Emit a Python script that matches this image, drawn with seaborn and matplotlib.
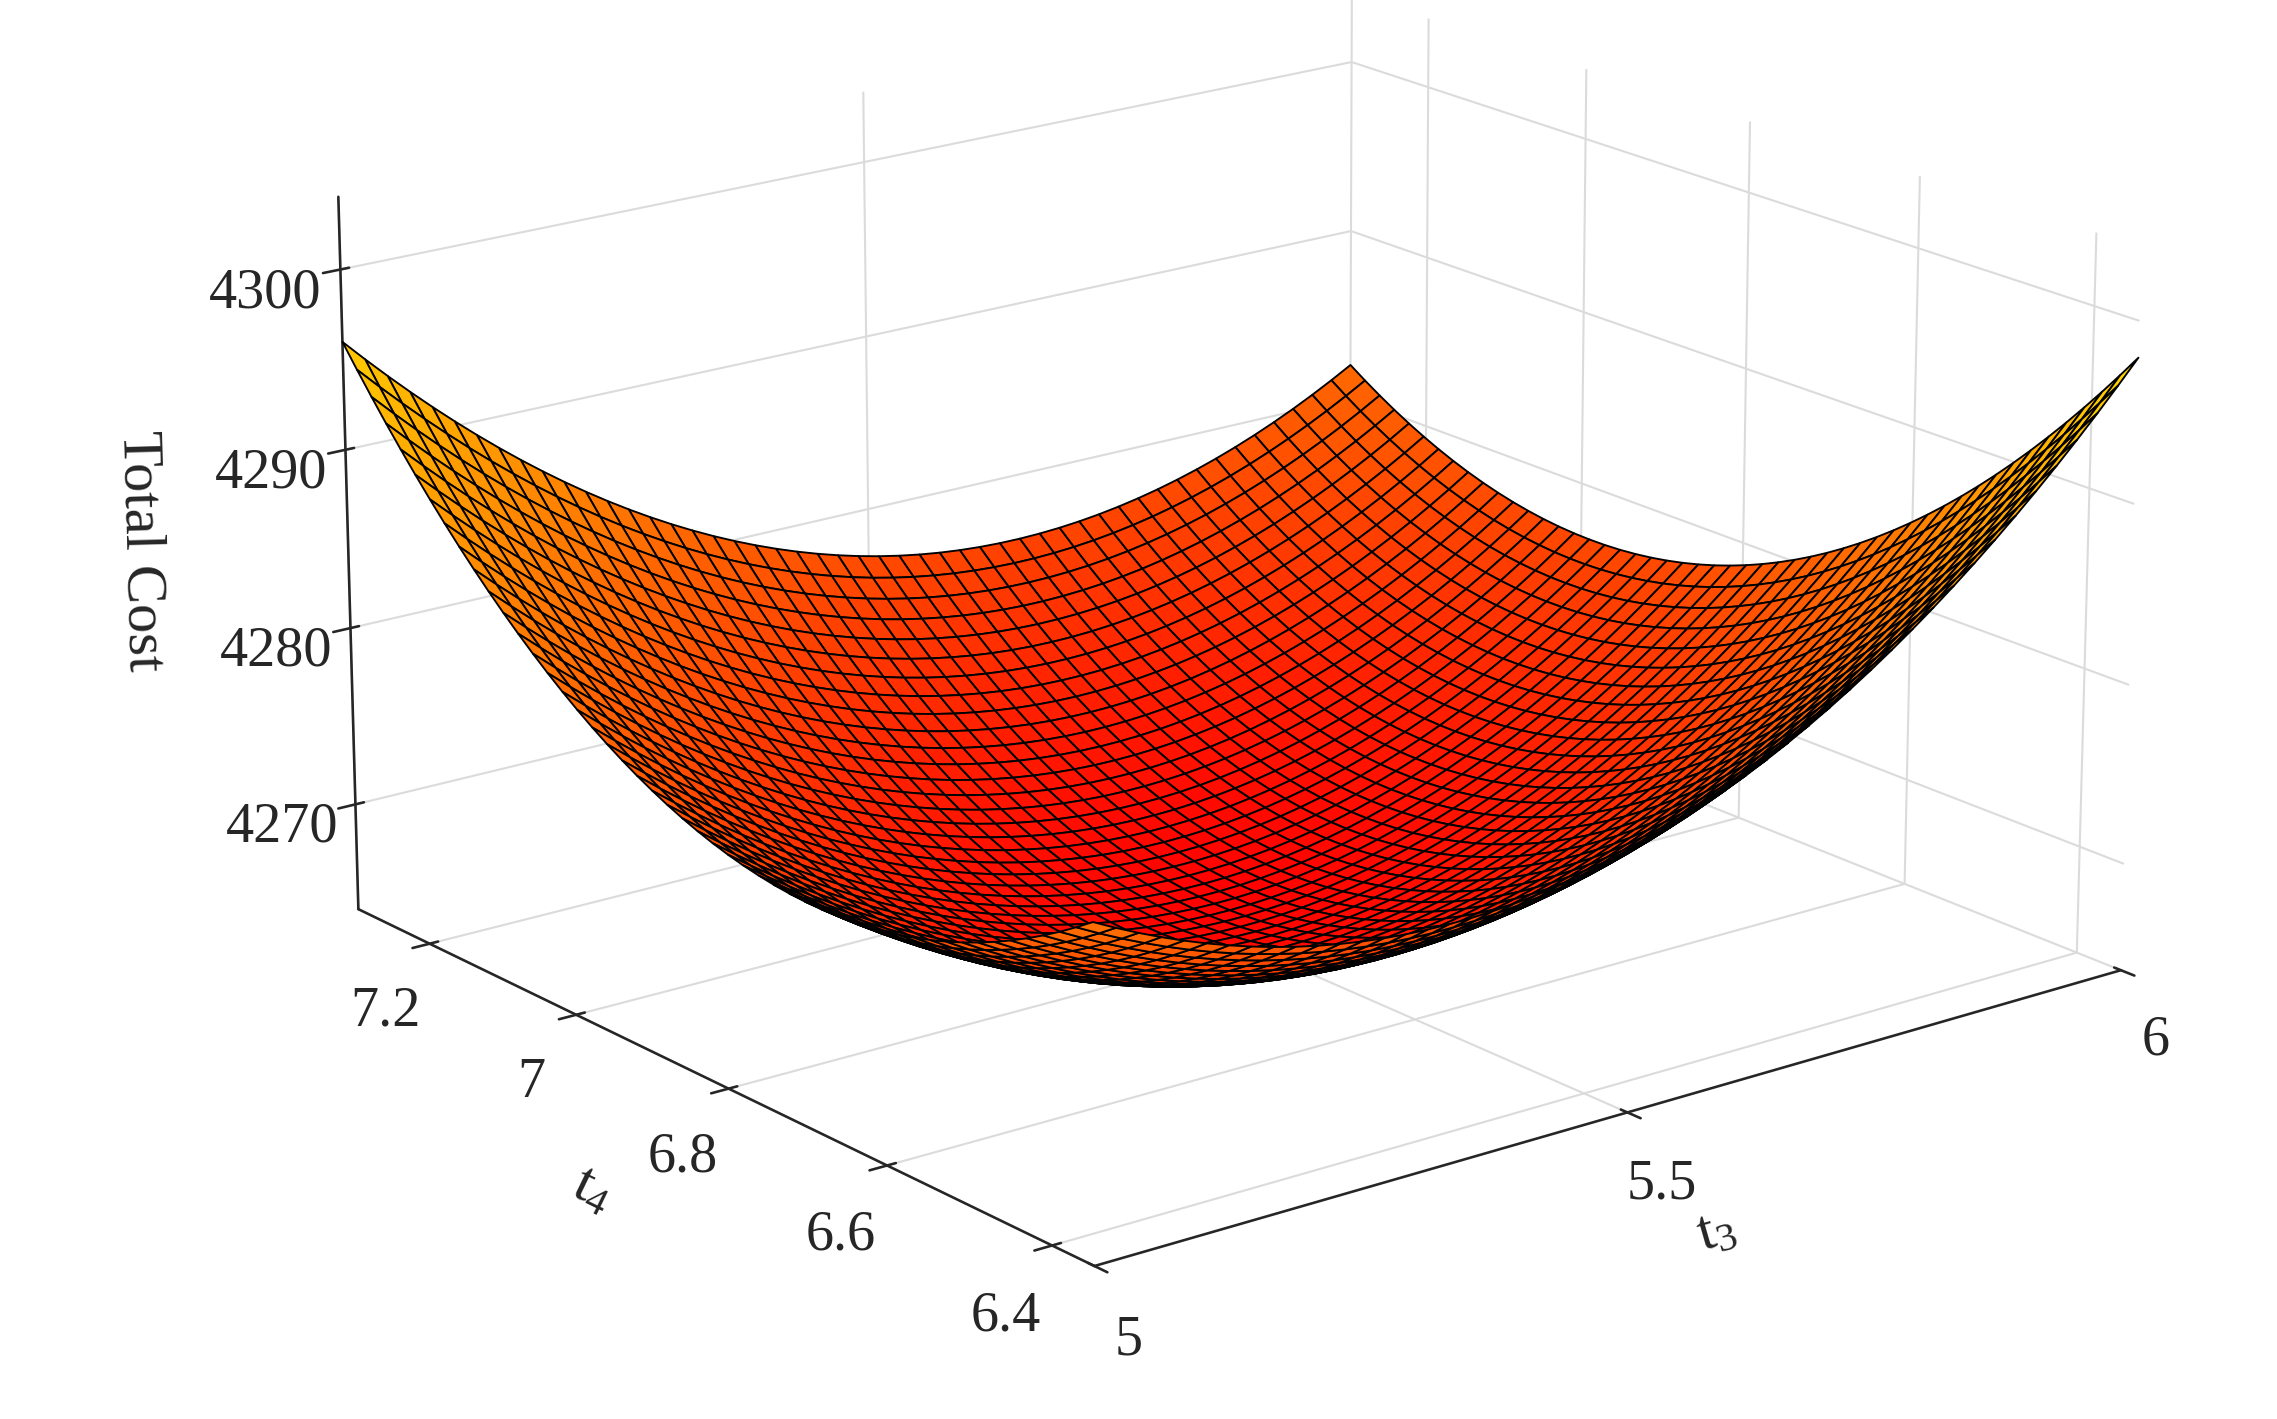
import numpy as np
import matplotlib
matplotlib.use("Agg")
import matplotlib.pyplot as plt
import seaborn as sns

sns.set_theme(style="white")
plt.rcParams['font.family'] = ['Liberation Serif', 'DejaVu Serif']
plt.rcParams['mathtext.fontset'] = 'custom'
plt.rcParams['mathtext.rm'] = 'Liberation Serif'
plt.rcParams['mathtext.it'] = 'Liberation Serif'

# axis ranges / ticks
t3_range = [5.0, 6.0]
t4_range = [6.35, 7.3]
t3_ticks = [5, 5.5, 6]
t4_ticks = [6.4, 6.6, 6.8, 7, 7.2]
z_ticks = [4270, 4280, 4290, 4300]
z_limits = [4264, 4304]
z_base = 4266.0
coef_diff2 = 31.0
coef_diff1 = 1.0
coef_sum2 = 16.0
n_grid = 50

t3 = np.linspace(*t3_range, n_grid)
t4 = np.linspace(*t4_range, n_grid)
T3, T4 = np.meshgrid(t3, t4)
s = (T3 - t3_range[0]) / (t3_range[1] - t3_range[0])
r = (T4 - t4_range[0]) / (t4_range[1] - t4_range[0])
Z = z_base + coef_diff2 * (s - r) ** 2 + coef_diff1 * (s - r) + coef_sum2 * (s + r - 1) ** 2

fig = plt.figure(figsize=(15.18, 9.46), dpi=150)
ax = fig.add_axes([-0.135, -0.095, 1.33, 1.33], projection='3d')
cval = 0.37 + 0.34 * (Z - 4266) / (4300 - 4266)
ax.plot_surface(T3, T4, Z, facecolors=plt.cm.hot(cval),
                edgecolor='black', linewidth=0.9, rstride=1, cstride=1, shade=False)
ax.set_xlim(*t3_range)
ax.set_ylim(*t4_range)
ax.set_zlim(*z_limits)
ax.set_xticks(t3_ticks)
ax.set_xticklabels(['5', '5.5', '6'])
ax.set_yticks(t4_ticks)
ax.set_yticklabels(['6.4', '6.6', '6.8', '7', '7.2'])
ax.set_zticks(z_ticks)
ax.tick_params(labelsize=27, pad=12, colors='#262626')
ax.set_xlabel('t$_3$', fontsize=28, labelpad=30)
ax.set_ylabel('t$_4$', fontsize=28, labelpad=30)
ax.set_zlabel('Total Cost', fontsize=28, labelpad=35)
ax.view_init(elev=18, azim=-128)
for a in (ax.xaxis, ax.yaxis, ax.zaxis):
    a.pane.fill = False
    a.pane.set_edgecolor('none')
    a._axinfo['grid']['color'] = (0.86, 0.86, 0.86, 1)
    a._axinfo['axisline']['color'] = (0.1, 0.1, 0.1, 1)
    a._axinfo['axisline']['linewidth'] = 1.5
ax.set_box_aspect((1.2, 1.15, 0.7), zoom=1.0)
fig.savefig('out.png', dpi=150)
